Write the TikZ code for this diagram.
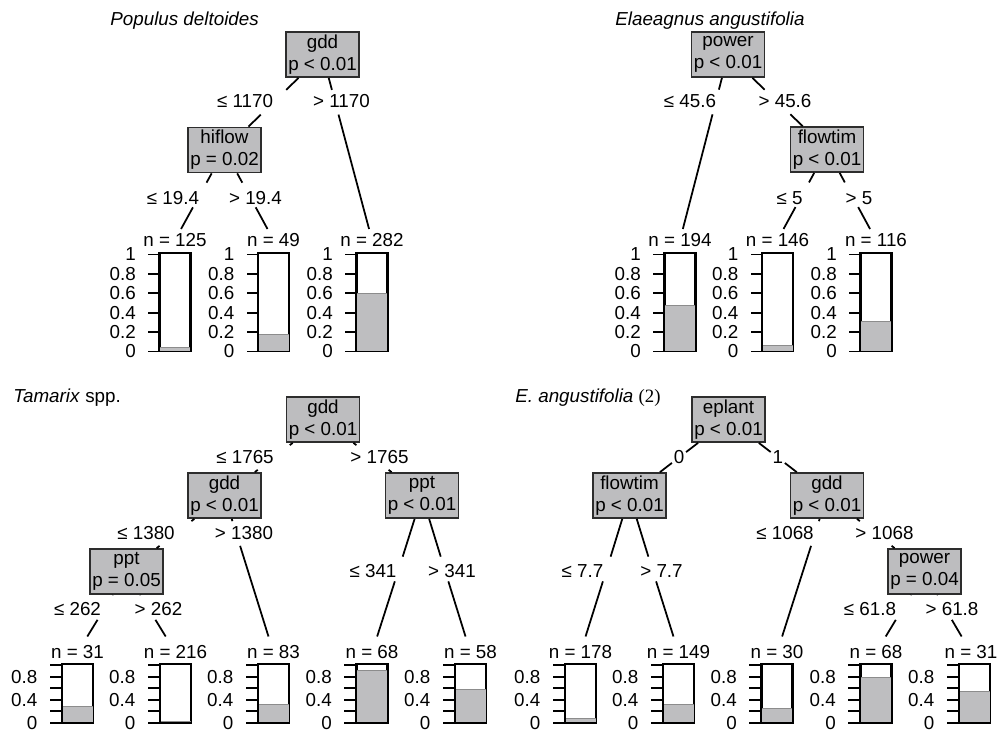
\documentclass[tikz,border=0pt]{standalone}
\usepackage{fontspec}
\setmainfont{Liberation Sans}
\newfontfamily\serifnum{Liberation Serif}
\usetikzlibrary{positioning,calc}

\definecolor{boxgray}{RGB}{189,189,191}
\definecolor{boxline}{RGB}{45,45,45}
\definecolor{bargray}{RGB}{190,190,192}
\definecolor{barline}{RGB}{140,140,140}

\begin{document}
\begin{tikzpicture}[
  x=0.2mm, y=-0.2mm,
  font=\fontsize{10.7pt}{12.5pt}\selectfont,
  splitbox/.style={draw=boxline, fill=boxgray, line width=1pt, minimum width=14.6mm,
                   minimum height=9mm, inner sep=0.2mm, align=center},
  title/.style={anchor=west, inner sep=0},
  lab/.style={inner sep=0},
  gap/.style={minimum width=8mm, minimum height=4.8mm, inner sep=0},
  termtop/.style={inner xsep=0.4mm, inner ysep=0.8mm},
  termbot/.style={inner xsep=0.4mm, inner ysep=1.8mm},
  bartop/.style={draw, line width=1pt, minimum width=6mm, minimum height=19.4mm, inner sep=0},
  barbot/.style={draw, line width=1pt, minimum width=6mm, minimum height=11.5mm, inner sep=0},
  ylab/.style={inner sep=0, anchor=east},
  link/.style={line width=1pt}
]
\useasboundingbox (0,0) rectangle (1000,733);

% Populus deltoides
\node[title] (pdt) at (110,20.5) {\itshape Populus deltoides};
\node[splitbox] (pd0) at (322.5,54.5) {gdd\\p < 0.01};
\node[splitbox] (pd1) at (224.5,150) {hiflow\\p = 0.02};
\node[termtop] (pdn1) at (175,240) {n = 125};
\node[termtop] (pdn2) at (273.5,240) {n = 49};
\node[termtop] (pdn3) at (372,240) {n = 282};

\node[gap] (pdg1) at (273.5,102.25) {};
\node[gap] (pdg2) at (335.2,102.25) {};
\node[gap] (pdg3) at (199.75,195) {};
\node[gap] (pdg4) at (249,195) {};

\draw[link] (pd0) -- (pdg1) -- (pd1);
\draw[link] (pd0) -- (pdg2) -- (pdn3);
\draw[link] (pd1) -- (pdg3) -- (pdn1);
\draw[link] (pd1) -- (pdg4) -- (pdn2);

\node[lab] (pdl1) at (245,101.5) {≤ 1170};
\node[lab] (pdl2) at (341.5,101.5) {> 1170};
\node[lab] (pdl3) at (173,198) {≤ 19.4};
\node[lab] (pdl4) at (255.5,198) {> 19.4};

\node[bartop, below=2.54mm of pdn1.center] (pdb1) {};
\node[bartop, below=2.54mm of pdn2.center] (pdb2) {};
\node[bartop, below=2.54mm of pdn3.center] (pdb3) {};

% Elaeagnus angustifolia
\node[title] (eat) at (615,21) {\itshape Elaeagnus angustifolia};
\node[splitbox] (ea0) at (728,54.5) {power\\p < 0.01};
\node[splitbox] (ea1) at (827,149.5) {flowtim\\p < 0.01};
\node[termtop] (ean1) at (680,240) {n = 194};
\node[termtop] (ean2) at (777.5,240) {n = 146};
\node[termtop] (ean3) at (876,240) {n = 116};

\node[gap] (eag1) at (715.7,102) {};
\node[gap] (eag2) at (777.5,102) {};
\node[gap] (eag3) at (802.25,194.75) {};
\node[gap] (eag4) at (851.5,194.75) {};

\draw[link] (ea0) -- (eag1) -- (ean1);
\draw[link] (ea0) -- (eag2) -- (ea1);
\draw[link] (ea1) -- (eag3) -- (ean2);
\draw[link] (ea1) -- (eag4) -- (ean3);

\node[lab] (eal1) at (690,101.5) {≤ 45.6};
\node[lab] (eal2) at (785,101.5) {> 45.6};
\node[lab] (eal3) at (789.5,198) {≤ 5};
\node[lab] (eal4) at (859,198) {> 5};

\node[bartop, below=2.54mm of ean1.center] (eab1) {};
\node[bartop, below=2.54mm of ean2.center] (eab2) {};
\node[bartop, below=2.54mm of ean3.center] (eab3) {};

% Tamarix spp.
\node[title] (tat) at (13,397.5) {\textit{Tamarix} spp.};
\node[splitbox] (ta0) at (323,419.5) {gdd\\p < 0.01};
\node[splitbox] (ta1) at (224.5,495.5) {gdd\\p < 0.01};
\node[splitbox] (ta2) at (422,495.5) {ppt\\p < 0.01};
\node[splitbox] (ta3) at (126.5,571.5) {ppt\\p = 0.05};
\node[termbot] (tan1) at (77.5,652.5) {n = 31};
\node[termbot] (tan2) at (175.5,652.5) {n = 216};
\node[termbot] (tan3) at (273.5,652.5) {n = 83};
\node[termbot] (tan4) at (372,652.5) {n = 68};
\node[termbot] (tan5) at (470.5,652.5) {n = 58};

\node[gap] (tag1) at (273.75,457.5) {};
\node[gap] (tag2) at (372.5,457.5) {};
\node[gap] (tag3) at (175.5,533.5) {};
\node[gap] (tag4) at (236.25,533.5) {};
\node[gap] (tag5) at (105.1,607.5) {};
\node[gap] (tag6) at (147.9,607.5) {};
\node[gap] (tag7) at (398.8,569) {};
\node[gap] (tag8) at (444.5,569) {};

\draw[link] (ta0) -- (tag1) -- (ta1);
\draw[link] (ta0) -- (tag2) -- (ta2);
\draw[link] (ta1) -- (tag3) -- (ta3);
\draw[link] (ta1) -- (tag4) -- (tan3);
\draw[link] (ta3) -- (tag5) -- (tan1);
\draw[link] (ta3) -- (tag6) -- (tan2);
\draw[link] (ta2) -- (tag7) -- (tan4);
\draw[link] (ta2) -- (tag8) -- (tan5);

\node[lab] (tal1) at (245,457) {≤ 1765};
\node[lab] (tal2) at (379.5,457) {> 1765};
\node[lab] (tal3) at (146,533) {≤ 1380};
\node[lab] (tal4) at (244,533) {> 1380};
\node[lab] (tal5) at (77.5,609) {≤ 262};
\node[lab] (tal6) at (158.5,609) {> 262};
\node[lab] (tal7) at (373,571) {≤ 341};
\node[lab] (tal8) at (452,571) {> 341};

\node[barbot, below=2.2mm of tan1.center] (tab1) {};
\node[barbot, below=2.2mm of tan2.center] (tab2) {};
\node[barbot, below=2.2mm of tan3.center] (tab3) {};
\node[barbot, below=2.2mm of tan4.center] (tab4) {};
\node[barbot, below=2.2mm of tan5.center] (tab5) {};

% E. angustifolia (2)
\node[title] (ebt) at (515,397.5) {\textit{E. angustifolia} {\serifnum (2)}};
\node[splitbox] (eb0) at (728.5,419.5) {eplant\\p < 0.01};
\node[splitbox] (eb1) at (629.5,495.5) {flowtim\\p < 0.01};
\node[splitbox] (eb2) at (827,495.5) {gdd\\p < 0.01};
\node[splitbox] (eb3) at (924.5,571.5) {power\\p = 0.04};
\node[termbot] (ebn1) at (580.5,652.5) {n = 178};
\node[termbot] (ebn2) at (678.5,652.5) {n = 149};
\node[termbot] (ebn3) at (777,652.5) {n = 30};
\node[termbot] (ebn4) at (876,652.5) {n = 68};
\node[termbot] (ebn5) at (971,652.5) {n = 31};

\node[lab, inner sep=0.3mm] (ebl1) at (679,457.5) {0};
\node[lab, inner sep=0.3mm] (ebl2) at (777.75,457.5) {1};
\node[gap] (ebg1) at (606.8,569) {};
\node[gap] (ebg2) at (652.2,569) {};
\node[gap] (ebg3) at (815,533.5) {};
\node[gap] (ebg4) at (875.75,533.5) {};
\node[gap] (ebg5) at (903.3,607.5) {};
\node[gap] (ebg6) at (944.6,607.5) {};

\draw[link] (eb0) -- (ebl1) -- (eb1);
\draw[link] (eb0) -- (ebl2) -- (eb2);
\draw[link] (eb1) -- (ebg1) -- (ebn1);
\draw[link] (eb1) -- (ebg2) -- (ebn2);
\draw[link] (eb2) -- (ebg3) -- (ebn3);
\draw[link] (eb2) -- (ebg4) -- (eb3);
\draw[link] (eb3) -- (ebg5) -- (ebn4);
\draw[link] (eb3) -- (ebg6) -- (ebn5);

\node[lab] (ebl3) at (582.5,571) {≤ 7.7};
\node[lab] (ebl4) at (661.5,571) {> 7.7};
\node[lab] (ebl5) at (785,533) {≤ 1068};
\node[lab] (ebl6) at (884.5,533) {> 1068};
\node[lab] (ebl7) at (870,609) {≤ 61.8};
\node[lab] (ebl8) at (952,609) {> 61.8};

\node[barbot, below=2.2mm of ebn1.center] (ebb1) {};
\node[barbot, below=2.2mm of ebn2.center] (ebb2) {};
\node[barbot, below=2.2mm of ebn3.center] (ebb3) {};
\node[barbot, below=2.2mm of ebn4.center] (ebb4) {};
\node[barbot, below=2.2mm of ebn5.center, xshift=0.7mm] (ebb5) {};

% bars, ticks and tick labels
\foreach \b/\f in {pdb1/0.04,pdb2/0.17,pdb3/0.6,eab1/0.47,eab2/0.06,eab3/0.31} {
  \filldraw[fill=bargray, draw=barline, line width=0.6pt]
    (\b.south west) rectangle ($(\b.south east)+(0pt,\f*19.4mm)$);
  \draw[line width=1pt] (\b.south west) rectangle (\b.north east);
  \foreach \v [count=\i] in {0,0.2,0.4,0.6,0.8,1} {
    \draw[line width=1pt] ($(\b.south west)+(0pt,\v*19.4mm)$) -- ++(-2.2mm,0pt);
    \node[ylab] (\b-y\i) at ($(\b.south west)+(-4.6mm,\v*19.4mm)$) {\v};
  }
}
\foreach \b/\f in {tab1/0.29,tab2/0.015,tab3/0.32,tab4/0.91,tab5/0.58,
                   ebb1/0.07,ebb2/0.31,ebb3/0.24,ebb4/0.79,ebb5/0.55} {
  \filldraw[fill=bargray, draw=barline, line width=0.6pt]
    (\b.south west) rectangle ($(\b.south east)+(0pt,\f*11.5mm)$);
  \draw[line width=1pt] (\b.south west) rectangle (\b.north east);
  \foreach \v in {0,0.2,0.4,0.6,0.8,1}
    \draw[line width=1pt] ($(\b.south west)+(0pt,\v*11.5mm)$) -- ++(-2.4mm,0pt);
  \foreach \v [count=\i] in {0,0.4,0.8}
    \node[ylab] (\b-y\i) at ($(\b.south west)+(-4.8mm,\v*11.5mm)$) {\v};
}

\end{tikzpicture}
\end{document}
